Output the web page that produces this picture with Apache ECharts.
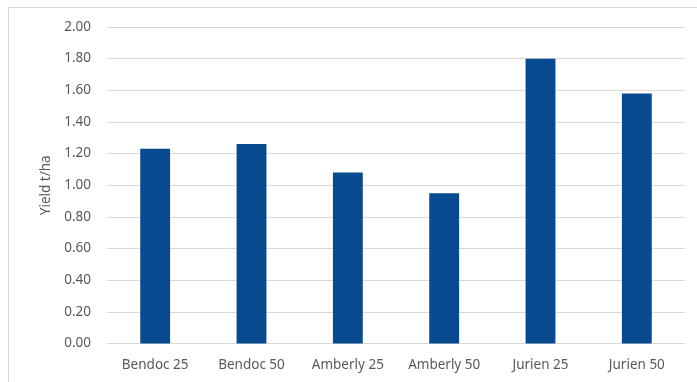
<!DOCTYPE html>
<html>
<head>
<meta charset="utf-8">
<script src="https://cdn.jsdelivr.net/npm/echarts@6/dist/echarts.min.js"></script>
<style>
html,body{margin:0;padding:0;background:#fff;}
#chart{width:697px;height:382px;}
</style>
</head>
<body>
<div id="chart"></div>
<script>
const categories = ['Bendoc 25', 'Bendoc 50', 'Amberly 25', 'Amberly 50', 'Jurien 25', 'Jurien 50'];
const yieldValues = [1.23, 1.26, 1.08, 0.95, 1.80, 1.58];
const yAxisTitle = 'Yield t/ha';

const chart = echarts.init(document.getElementById('chart'), null, {renderer: 'canvas'});
const textColor = '#595959';
const gridColor = '#d9d9d9';
const fontFamily = '"Noto Sans", "Open Sans", sans-serif';

chart.setOption({
  animation: false,
  backgroundColor: '#ffffff',
  grid: {left: 107, right: 12, top: 27, height: 316.5, containLabel: false},
  xAxis: {
    type: 'category',
    data: categories,
    axisLine: {show: true, lineStyle: {color: gridColor, width: 1}},
    axisTick: {show: false},
    axisLabel: {color: textColor, fontSize: 13.5, fontFamily: fontFamily, margin: 15, interval: 0}
  },
  yAxis: {
    type: 'value',
    min: 0,
    max: 2,
    interval: 0.2,
    name: yAxisTitle,
    nameLocation: 'middle',
    nameRotate: 90,
    nameGap: 54,
    nameTextStyle: {color: textColor, fontSize: 13.5, fontFamily: fontFamily},
    axisLine: {show: false},
    axisTick: {show: false},
    splitLine: {lineStyle: {color: gridColor, width: 1}},
    axisLabel: {
      color: textColor, fontSize: 13.5, fontFamily: fontFamily, margin: 16,
      formatter: v => v.toFixed(2)
    }
  },
  series: [{
    type: 'bar',
    data: yieldValues,
    barWidth: '31%',
    itemStyle: {color: '#074A8F'}
  }],
  graphic: [
    {type: 'line', shape: {x1: 8, y1: 7.5, x2: 697, y2: 7.5}, style: {stroke: gridColor, lineWidth: 1}, silent: true},
    {type: 'line', shape: {x1: 8.5, y1: 7, x2: 8.5, y2: 382}, style: {stroke: gridColor, lineWidth: 1}, silent: true}
  ]
});
</script>
</body>
</html>
